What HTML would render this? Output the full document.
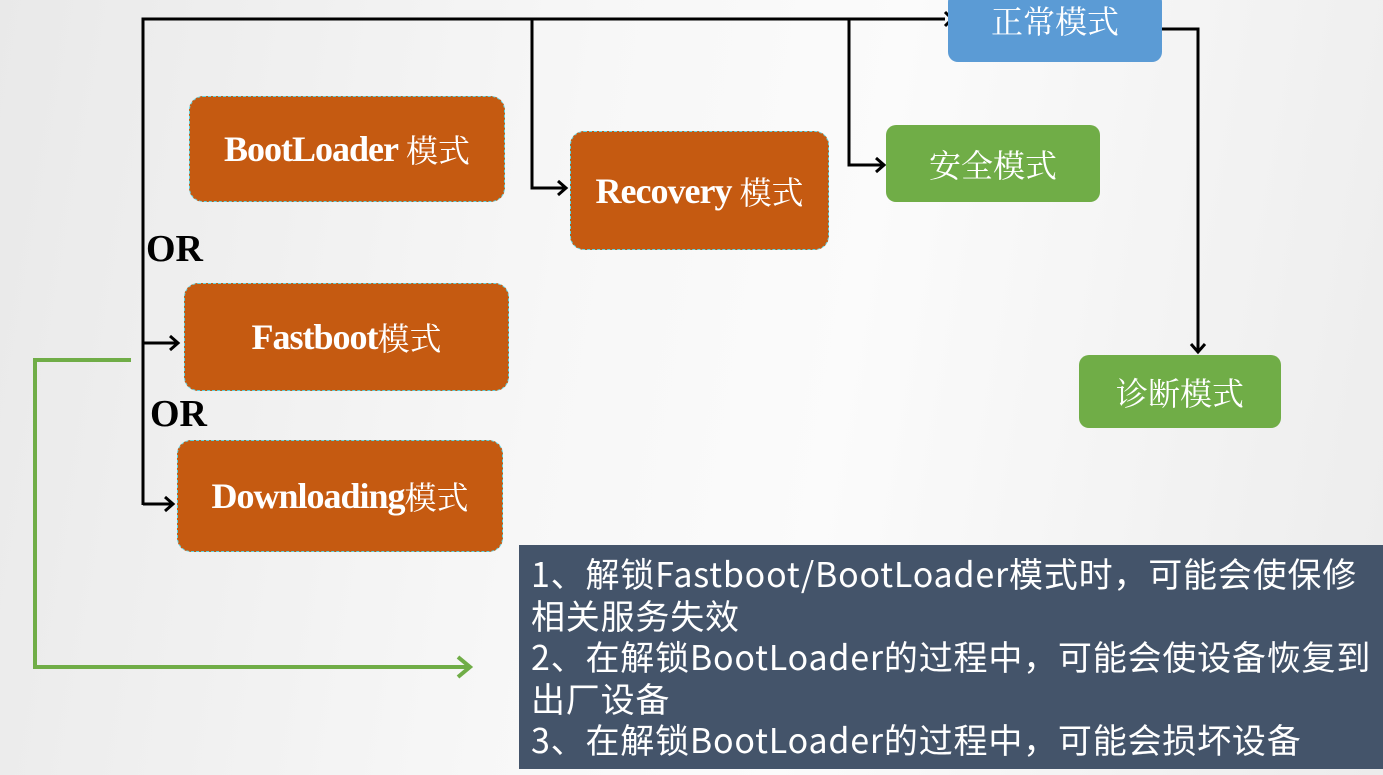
<!DOCTYPE html>
<html><head><meta charset="utf-8"><style>
html,body{margin:0;padding:0;}
body{width:1383px;height:775px;overflow:hidden;position:relative;background:linear-gradient(100deg,#e9e9e9 0%,#f7f7f7 40%,#fbfbfb 60%,#ececec 100%);font-family:"Liberation Sans","Noto Sans CJK SC",sans-serif;}
.b{position:absolute;box-sizing:border-box;display:flex;align-items:center;justify-content:center;color:#fff;}
.o{background:#c55a11;border:1.5px dashed #5fd3e0;border-radius:14px;font-family:"Liberation Serif","Noto Serif CJK SC",serif;font-weight:bold;font-size:36px;letter-spacing:-1px;}
.o span{font-weight:normal;font-family:"Noto Serif CJK SC","Noto Sans CJK SC",serif;font-size:32px;letter-spacing:0;}
.g{background:#70ad47;border-radius:10px;font-family:"Noto Serif CJK SC",serif;font-size:32px;}
.or{position:absolute;font-family:"Liberation Serif",serif;font-weight:bold;font-size:38px;color:#000;line-height:1;}
.t{position:absolute;left:519px;top:545px;width:864px;height:224px;background:#44546a;color:#fff;font-family:"Noto Sans CJK SC",sans-serif;font-size:34px;letter-spacing:0.8px;line-height:41.5px;padding:7px 0 0 12px;box-sizing:border-box;white-space:nowrap;overflow:hidden;}
svg{position:absolute;left:0;top:0;}
</style></head><body>
<svg width="1383" height="775">
<g stroke="#000" stroke-width="3" fill="none">
<polyline points="143,505 143,19 945,19"/>
<polyline points="945,12 952,19 945,26"/>
<polyline points="143,343 178,343"/><polyline points="170,336 178,343 170,350"/>
<polyline points="143,504 173,504"/><polyline points="165,497 173,504 165,511"/>
<polyline points="532,19 532,188 566,188"/><polyline points="558,181 566,188 558,195"/>
<polyline points="849,19 849,165 884,165"/><polyline points="876,158 884,165 876,172"/>
<polyline points="1162,29 1198,29 1198,352"/><polyline points="1191,344 1198,352 1205,344"/>
</g>
<g stroke="#70ad47" stroke-width="4" fill="none">
<polyline points="131,360 35,360 35,667 470,667"/>
<polyline points="458,657 470,667 458,677"/>
</g>
</svg>
<div class="b" style="left:948px;top:-8px;width:214px;height:70px;background:#5b9bd5;border-radius:10px;font-family:'Noto Serif CJK SC',serif;font-size:32px;padding-bottom:14px;">正常模式</div>
<div class="b g" style="left:886px;top:125px;width:214px;height:77px;">安全模式</div>
<div class="b g" style="left:1079px;top:355px;width:202px;height:73px;">诊断模式</div>
<div class="b o" style="left:189px;top:96px;width:316px;height:106px;">BootLoader&nbsp;<span>模式</span></div>
<div class="b o" style="left:570px;top:131px;width:259px;height:119px;">Recovery&nbsp;<span>模式</span></div>
<div class="b o" style="left:184px;top:283px;width:325px;height:108px;">Fastboot<span>模式</span></div>
<div class="b o" style="left:177px;top:440px;width:326px;height:112px;">Downloading<span>模式</span></div>
<div class="or" style="left:146px;top:230px;">OR</div>
<div class="or" style="left:150px;top:395px;">OR</div>
<div class="t">1、解锁Fastboot/BootLoader模式时，可能会使保修<br>相关服务失效<br>2、在解锁BootLoader的过程中，可能会使设备恢复到<br>出厂设备<br>3、在解锁BootLoader的过程中，可能会损坏设备</div>
</body></html>
